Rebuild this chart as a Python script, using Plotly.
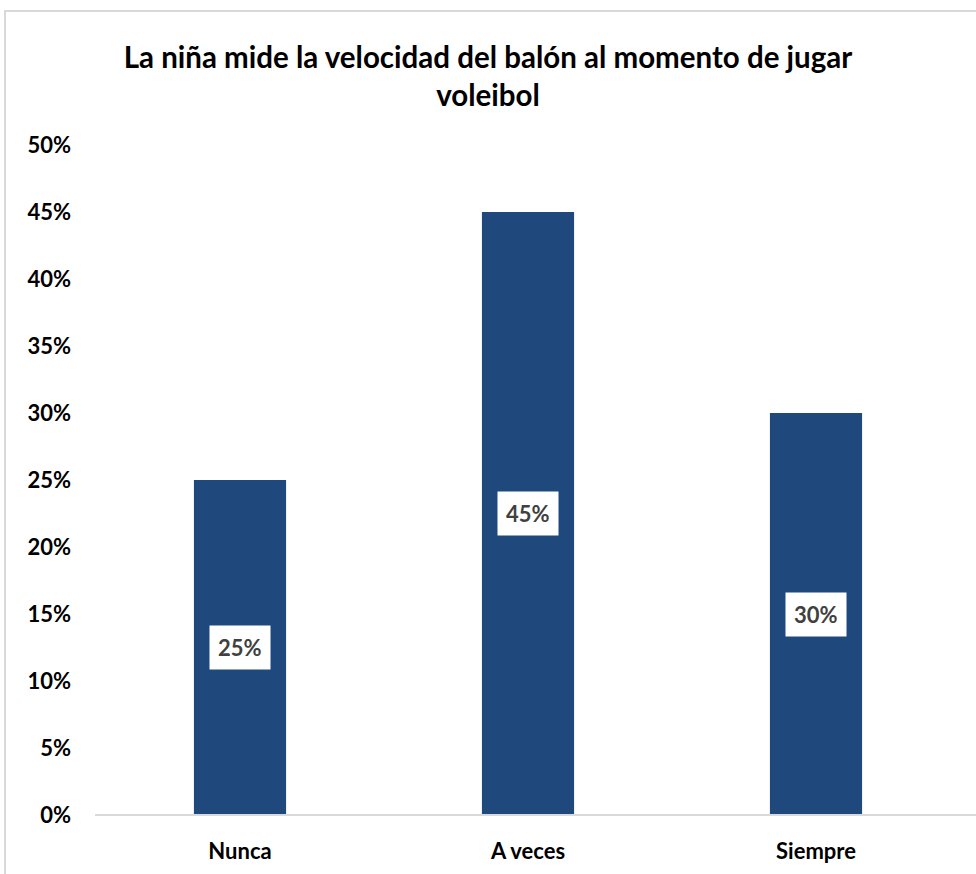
import plotly.graph_objects as go

categories = ["Nunca", "A veces", "Siempre"]
values = [0.25, 0.45, 0.30]
tick_vals = [0, 0.05, 0.10, 0.15, 0.20, 0.25, 0.30, 0.35, 0.40, 0.45, 0.50]
tick_text = ["0%", "5%", "10%", "15%", "20%", "25%", "30%", "35%", "40%", "45%", "50%"]
title = "La niña mide la velocidad del balón al momento de jugar<br>voleibol"

FONT = "Lato, 'Liberation Sans Narrow', 'Open Sans', sans-serif"

fig = go.Figure()
fig.add_trace(go.Bar(
    x=categories, y=values,
    marker=dict(color="#1F497D", line=dict(width=0)),
    hoverinfo="skip",
))

for c, v in zip(categories, values):
    fig.add_annotation(
        x=c, y=v / 2, xref="x", yref="y",
        text=f"<b>{round(v*100)}%</b>", showarrow=False,
        font=dict(family=FONT, size=22, color="#404040"),
        bgcolor="white", borderpad=8,
    )

W, H = 976, 874
L, R, T, B = 96, 16, 145, 59
pw, ph = W - L - R, H - T - B

def px(x):
    return (x - L) / pw

def py(y):
    return (H - B - y) / ph

shapes = [
    dict(type="rect", xref="paper", yref="paper",
         x0=px(5), x1=px(990), y0=py(890), y1=py(11),
         line=dict(color="#D9D9D9", width=2), fillcolor="rgba(0,0,0,0)", layer="below"),
    dict(type="line", xref="paper", yref="paper",
         x0=px(95), x1=px(976), y0=0, y1=0,
         line=dict(color="#D9D9D9", width=2), layer="above"),
]

fig.update_layout(
    width=W, height=H,
    margin=dict(l=L, r=R, t=T, b=B, autoexpand=False),
    paper_bgcolor="white", plot_bgcolor="white",
    bargap=0.68,
    showlegend=False,
    title=dict(text=f"<b>{title}</b>", x=0.5, xanchor="center", xref="container",
               y=1 - 68 / H, yanchor="top",
               font=dict(family=FONT, size=29.5, color="black")),
    font=dict(family=FONT, color="black"),
    shapes=shapes,
    xaxis=dict(showgrid=False, showline=False, zeroline=False, ticks="", automargin=False,
               tickfont=dict(family=FONT, size=22, color="black"),
               tickprefix="<b>", ticksuffix="</b>", ticklabelstandoff=21),
    yaxis=dict(range=[0, 0.5], tickvals=tick_vals, ticktext=[f"<b>{t}</b>" for t in tick_text],
               showgrid=False, showline=False, zeroline=False, ticks="", automargin=False,
               tickfont=dict(family=FONT, size=22, color="black"),
               ticklabelstandoff=24),
)

fig.write_html("out.html", config={"displayModeBar": False},
               post_script="document.body.style.margin='0';document.body.style.overflow='hidden';")
